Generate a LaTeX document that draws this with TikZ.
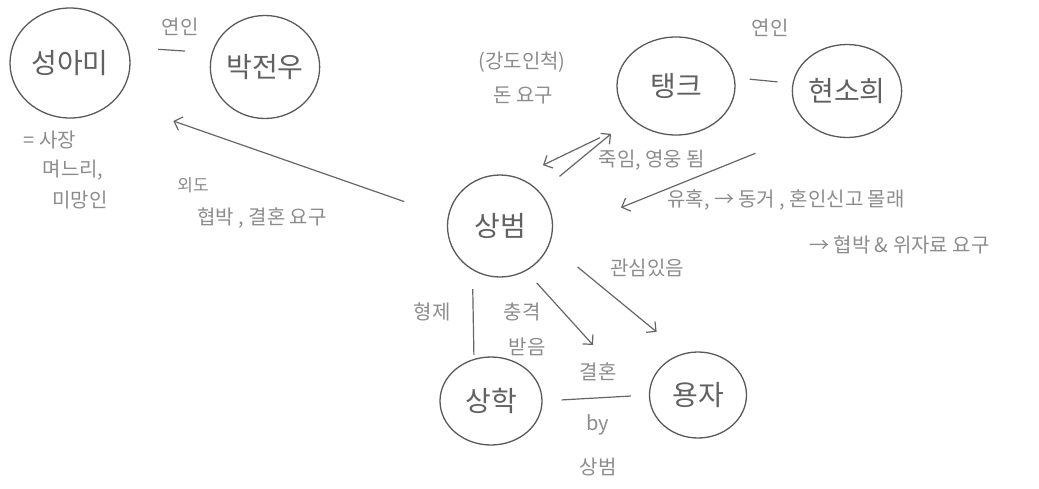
\documentclass[tikz,border=0pt]{standalone}
\usepackage{fontspec}
\setmainfont{Noto Sans CJK KR}
\usetikzlibrary{arrows.meta,shapes.geometric}

\begin{document}
\begin{tikzpicture}[x=1pt,y=-1pt,
    person/.style={ellipse,draw=black!65,line width=1.3pt,text=black!62,
        font=\fontsize{28}{32}\selectfont,inner sep=0pt},
    lbl/.style={text=black!45,font=\fontsize{20}{24}\selectfont,inner sep=1pt},
    small/.style={lbl,font=\fontsize{17}{20}\selectfont},
    link/.style={draw=black!60,line width=1.2pt},
    tip/.style={link,-{Straight Barb[length=7pt,width=14pt]}}]
  \useasboundingbox (0,0) rectangle (1039,488);

  % people
  \node[person,minimum width=120pt,minimum height=110pt] (ami) at (70,63) {성아미};
  \node[person,minimum width=106pt,minimum height=103pt] (jeonwoo) at (265,67) {박전우};
  \node[person,minimum width=118pt,minimum height=98pt] (tank) at (676,86) {탱크};
  \node[person,minimum width=100pt,minimum height=93pt] (sohui) at (847,91) {현소희};
  \node[person,minimum width=105pt,minimum height=102pt] (sangbeom) at (500,226) {상범};
  \node[person,minimum width=102pt,minimum height=88pt] (sanghak) at (491,401) {상학};
  \node[person,minimum width=97pt,minimum height=86pt] (yongja) at (698,395) {용자};

  % notes
  \node[lbl] (lover1) at (180,27) {연인};
  \node[lbl] (lover2) at (770,28) {연인};
  \node[lbl] (amia) at (50,140) {= 사장};
  \node[lbl] (amib) at (73,170) {며느리,};
  \node[lbl] (amic) at (80,200) {미망인};
  \node[small] (affair) at (193,185) {외도};
  \node[lbl] (threat) at (262,218) {협박 , 결혼 요구};
  \node[lbl] (robber) at (522,62) {(강도인척)};
  \node[lbl] (money) at (523,95) {돈 요구};
  \node[lbl] (hero) at (652,160) {죽임, 영웅 됨};
  \node[lbl,anchor=west] (lure) at (666,200) {유혹, → 동거 , 혼인신고 몰래};
  \node[lbl,anchor=west] (alimony) at (808,245) {→ 협박 \& 위자료 요구};
  \node[lbl] (interest) at (647,268) {관심있음};
  \node[lbl] (bro) at (432,312) {형제};
  \node[lbl] (shocka) at (522,312) {충격};
  \node[lbl] (shockb) at (527,347) {받음};
  \node[lbl] (wed) at (598,372) {결혼};
  \node[lbl] (by) at (598,425) {by};
  \node[lbl] (bysb) at (598,467) {상범};

  \coordinate (shock) at (593,345);

  % links
  \draw[link,shorten <=30pt,shorten >=27pt] (ami.15) -- (jeonwoo.165);
  \draw[link,shorten <=15pt,shorten >=15pt] (tank.8) -- (sohui.172);
  \draw[tip,shorten <=46pt,shorten >=62pt] (sangbeom.170) -- (ami.-40);
  \draw[tip,shorten <=38pt,shorten >=28pt] (tank.220) -- (sangbeom.70);
  \draw[tip,shorten <=25pt,shorten >=25pt] (sangbeom.40) -- (tank.215);
  \draw[tip,shorten <=64pt,shorten >=74pt] (sohui.230) -- (sangbeom.-10);
  \draw[tip,shorten <=36pt,shorten >=34pt] (sangbeom.-20) -- (yongja.110);
  \draw[link,shorten <=19pt,shorten >=4pt] (sangbeom.-122) -- (sanghak.112);
  \draw[tip,shorten <=16pt] (sangbeom.-60) -- (shock);
  \draw[link,shorten <=19pt,shorten >=18pt] (sanghak.east) -- (yongja.west);
\end{tikzpicture}
\end{document}
